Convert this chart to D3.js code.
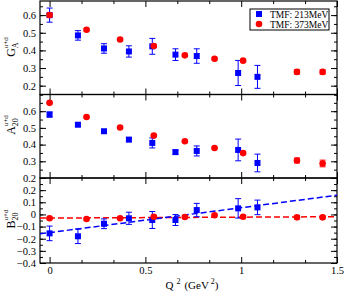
<!DOCTYPE html>
<html>
<head>
<meta charset="utf-8">
<script src="https://cdn.jsdelivr.net/npm/d3@7"></script>
<style>
  body { margin: 0; background: #fff; }
  text { font-family: "Liberation Serif", "Times New Roman", serif; fill: #000; }
</style>
</head>
<body>
<div class="formFactors"></div>
<script>
// Q^2 values (GeV^2) for the two pion masses
const q2_213 = [0, 0.148, 0.284, 0.414, 0.536, 0.657, 0.768, 0.984, 1.085]
const q2_373 = [0, 0.193, 0.368, 0.544, 0.706, 0.861, 1.010, 1.291, 1.425]

// G_A
const gA_213 = [0.600, 0.485, 0.411, 0.394, 0.423, 0.376, 0.368, 0.272, 0.250]
const gA_213_err = [0.040, 0.027, 0.027, 0.032, 0.045, 0.033, 0.041, 0.071, 0.065]
const gA_373 = [0.600, 0.517, 0.462, 0.425, 0.372, 0.353, 0.342, 0.278, 0.278]
const gA_373_err = [0.010, 0.006, 0.006, 0.008, 0.006, 0.006, 0.006, 0.012, 0.012]

// A_20
const a20_213 = [0.580, 0.519, 0.480, 0.430, 0.410, 0.355, 0.362, 0.368, 0.290]
const a20_213_err = [0.015, 0.010, 0.010, 0.012, 0.030, 0.012, 0.030, 0.065, 0.053]
const a20_373 = [0.650, 0.565, 0.502, 0.454, 0.420, 0.380, 0.349, 0.305, 0.287]
const a20_373_err = [0.005, 0.005, 0.005, 0.005, 0.005, 0.005, 0.006, 0.015, 0.020]

// B_20
const b20_213 = [-0.156, -0.180, -0.077, -0.032, -0.046, -0.046, 0.036, 0.050, 0.058]
const b20_213_err = [0.060, 0.060, 0.040, 0.050, 0.070, 0.045, 0.055, 0.080, 0.060]
const b20_373 = [-0.032, -0.038, -0.032, -0.019, -0.021, -0.007, -0.019, -0.024, -0.024]
const b20_373_err = [0.008, 0.008, 0.008, 0.008, 0.008, 0.008, 0.008, 0.015, 0.012]

// linear fits in the B_20 panel
const fitQ2 = [-0.05, 1.5]
const fitB20_213 = [-0.160, 0.158]
const fitB20_373 = [-0.030, -0.019]

const xTicks = [0, 0.5, 1, 1.5]
const xTickLabels = ["0", "0.5", "1", "1.5"]
const legendLabels = ["TMF: 213MeV", "TMF: 373MeV"]

const width = 345
const height = 292
const left = 40
const right = 337
const blue = "#0000ff"
const red = "#ff0000"

const x = d3.scaleLinear().domain([-0.05, 1.5]).range([left, right])

const panels = [
  { top: 1, bottom: 94.5, domain: [0.15, 0.68], ticks: [0.2, 0.3, 0.4, 0.5, 0.6],
    main: "G", sub: "A", labelY: 47,
    s1: gA_213, e1: gA_213_err, s2: gA_373, e2: gA_373_err },
  { top: 94.5, bottom: 178, domain: [0.2, 0.7], ticks: [0.2, 0.3, 0.4, 0.5, 0.6],
    main: "A", sub: "20", labelY: 125,
    s1: a20_213, e1: a20_213_err, s2: a20_373, e2: a20_373_err },
  { top: 178, bottom: 263, domain: [-0.4, 0.3], ticks: [-0.4, -0.3, -0.2, -0.1, 0, 0.1, 0.2],
    main: "B", sub: "20", labelY: 219,
    s1: b20_213, e1: b20_213_err, s2: b20_373, e2: b20_373_err, fits: true }
]

const canvas = d3.select(".formFactors").append("svg")
  .attr("width", width)
  .attr("height", height)

const xMinor = d3.range(-0, 1.5001, 0.5 / 3).filter(function(v) {
  return Math.abs(v * 2 - Math.round(v * 2)) > 1e-6
})

panels.forEach(function(p, pi) {
  const y = d3.scaleLinear().domain(p.domain).range([p.bottom, p.top])
  const yMinor = d3.range(Math.ceil(p.domain[0] * 20) / 20, p.domain[1] + 1e-6, 0.05)

  const g = canvas.append("g")

  // minor ticks
  g.append("g").attr("transform", "translate(" + left + ",0)")
    .call(d3.axisLeft(y).tickValues(yMinor).tickSizeInner(-3).tickSizeOuter(0).tickFormat(""))
  g.append("g").attr("transform", "translate(" + right + ",0)")
    .call(d3.axisRight(y).tickValues(yMinor).tickSizeInner(-3).tickSizeOuter(0).tickFormat(""))
  g.append("g").attr("transform", "translate(0," + p.bottom + ")")
    .call(d3.axisBottom(x).tickValues(xMinor).tickSizeInner(-3).tickSizeOuter(0).tickFormat(""))
  g.append("g").attr("transform", "translate(0," + p.top + ")")
    .call(d3.axisTop(x).tickValues(xMinor).tickSizeInner(-3).tickSizeOuter(0).tickFormat(""))

  // major ticks
  const yAxis = g.append("g").attr("transform", "translate(" + left + ",0)")
    .call(d3.axisLeft(y).tickValues(p.ticks).tickSizeInner(-6).tickSizeOuter(0).tickPadding(4)
      .tickFormat(function(d) { return d === 0 ? "0" : d3.format(".1f")(d) }))
  yAxis.selectAll("text").style("font-size", "10.5px")
  g.append("g").attr("transform", "translate(" + right + ",0)")
    .call(d3.axisRight(y).tickValues(p.ticks).tickSizeInner(-6).tickSizeOuter(0).tickFormat(""))
  const xAxis = g.append("g").attr("transform", "translate(0," + p.bottom + ")")
    .call(d3.axisBottom(x).tickValues(xTicks).tickSizeInner(-6).tickSizeOuter(0).tickPadding(4)
      .tickFormat(function(d, i) { return pi === 2 ? xTickLabels[i] : "" }))
  xAxis.selectAll("text").style("font-size", "10.5px")
  g.append("g").attr("transform", "translate(0," + p.top + ")")
    .call(d3.axisTop(x).tickValues(xTicks).tickSizeInner(-6).tickSizeOuter(0).tickFormat(""))

  canvas.selectAll(".domain").remove()

  // frame
  g.append("rect")
    .attr("x", left).attr("y", p.top)
    .attr("width", right - left).attr("height", p.bottom - p.top)
    .attr("fill", "none").attr("stroke", "#000").attr("stroke-width", 1.2)

  // fits
  if (p.fits) {
    const line = d3.line()
      .x(function(d) { return x(d[0]) })
      .y(function(d) { return y(d[1]) })
    g.append("path")
      .attr("d", line(d3.zip(fitQ2, fitB20_373)))
      .attr("fill", "none").attr("stroke", red).attr("stroke-width", 1.5)
      .attr("stroke-dasharray", "6,3")
    g.append("path")
      .attr("d", line(d3.zip(fitQ2, fitB20_213)))
      .attr("fill", "none").attr("stroke", blue).attr("stroke-width", 1.5)
      .attr("stroke-dasharray", "6,3")
  }

  const series = [
    { q: q2_213, v: p.s1, e: p.e1, color: blue, shape: "square" },
    { q: q2_373, v: p.s2, e: p.e2, color: red, shape: "circle" }
  ]

  series.forEach(function(s) {
    const pts = s.q.map(function(q, i) { return { q: q, v: s.v[i], e: s.e[i] } })
    const bars = g.append("g").selectAll("g").data(pts).enter().append("g")
      .attr("stroke", s.color).attr("stroke-width", 1)
    bars.append("line")
      .attr("x1", function(d) { return x(d.q) }).attr("x2", function(d) { return x(d.q) })
      .attr("y1", function(d) { return y(d.v - d.e) }).attr("y2", function(d) { return y(d.v + d.e) })
    bars.append("line")
      .attr("x1", function(d) { return x(d.q) - 3 }).attr("x2", function(d) { return x(d.q) + 3 })
      .attr("y1", function(d) { return y(d.v - d.e) }).attr("y2", function(d) { return y(d.v - d.e) })
    bars.append("line")
      .attr("x1", function(d) { return x(d.q) - 3 }).attr("x2", function(d) { return x(d.q) + 3 })
      .attr("y1", function(d) { return y(d.v + d.e) }).attr("y2", function(d) { return y(d.v + d.e) })

    if (s.shape === "square") {
      g.append("g").selectAll("rect").data(pts).enter().append("rect")
        .attr("x", function(d) { return x(d.q) - 3 })
        .attr("y", function(d) { return y(d.v) - 3 })
        .attr("width", 6).attr("height", 6)
        .attr("fill", s.color)
    } else {
      g.append("g").selectAll("circle").data(pts).enter().append("circle")
        .attr("cx", function(d) { return x(d.q) })
        .attr("cy", function(d) { return y(d.v) })
        .attr("r", 3.3)
        .attr("fill", s.color)
    }
  })

  // y title
  const title = canvas.append("text")
    .attr("transform", "translate(15," + p.labelY + ") rotate(-90)")
    .style("text-anchor", "middle")
  title.append("tspan").style("font-size", "12px").text(p.main)
  title.append("tspan").style("font-size", "8px").attr("dy", 3).text(p.sub)
  title.append("tspan").style("font-size", "7px")
    .attr("dx", p.sub === "A" ? -5.8 : -8).attr("dy", -10).text("u+d")
})

// x title
const xTitle = canvas.append("text")
  .attr("transform", "translate(192,289)")
  .style("text-anchor", "middle")
  .style("font-size", "11px")
xTitle.append("tspan").text("Q")
xTitle.append("tspan").style("font-size", "8px").attr("dx", 3).attr("dy", -5).text("2")
xTitle.append("tspan").attr("dx", 4).attr("dy", 5).text("(GeV")
xTitle.append("tspan").style("font-size", "8px").attr("dx", 2).attr("dy", -5).text("2")
xTitle.append("tspan").attr("dy", 5).text(")")

// legend
const legend = canvas.append("g")
legend.append("rect")
  .attr("x", 250).attr("y", 9).attr("width", 79).attr("height", 21)
  .attr("fill", "#fff").attr("stroke", "#000").attr("stroke-width", 1)
legend.append("rect")
  .attr("x", 256).attr("y", 11).attr("width", 6).attr("height", 6).attr("fill", blue)
legend.append("circle")
  .attr("cx", 259).attr("cy", 24).attr("r", 3.3).attr("fill", red)
legend.selectAll(".lbl").data(legendLabels).enter().append("text")
  .attr("class", "lbl")
  .attr("x", 270)
  .attr("y", function(d, i) { return 17.5 + i * 10 })
  .style("font-size", "9.5px")
  .text(function(d) { return d })
</script>
</body>
</html>
